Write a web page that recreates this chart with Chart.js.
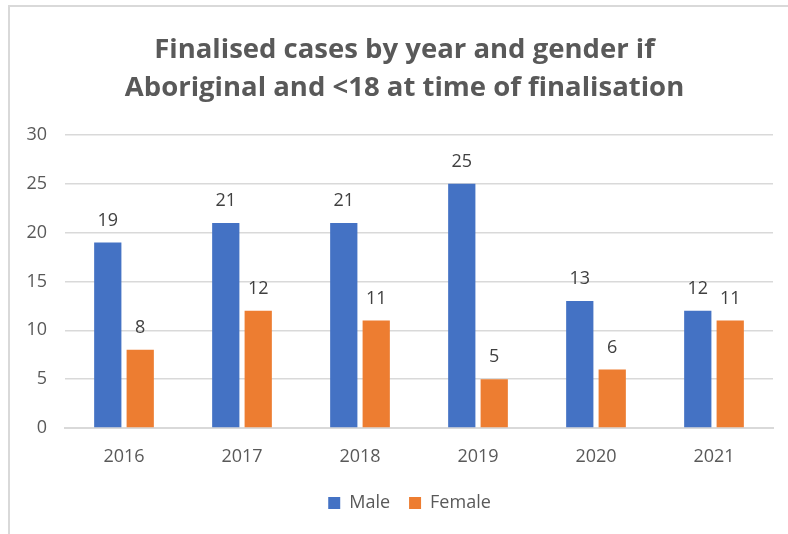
<!DOCTYPE html>
<html>
<head>
<meta charset="utf-8">
<script src="https://cdn.jsdelivr.net/npm/chart.js@4"></script>
<style>
  html, body { margin: 0; padding: 0; background: #fff; }
  #wrap { position: relative; width: 788px; height: 534px; }
  #frame { position: absolute; left: 8px; top: 5px; right: 0; bottom: 0; border-top: 2px solid #d9d9d9; border-left: 2px solid #d9d9d9; pointer-events: none; }
  canvas { position: absolute; left: 0; top: 0; }
</style>
</head>
<body>
<div id="wrap">
  <canvas id="c" width="788" height="534"></canvas>
  <div id="frame"></div>
</div>
<script>
const titleLines = ['Finalised cases by year and gender if', 'Aboriginal and <18 at time of finalisation'];
const years = ['2016', '2017', '2018', '2019', '2020', '2021'];
const maleValues = [19, 21, 21, 25, 13, 12];
const femaleValues = [8, 12, 11, 5, 6, 11];
const seriesNames = ['Male', 'Female'];
const yTicks = [0, 5, 10, 15, 20, 25, 30];

const FONT = '"Open Sans", Lato, sans-serif';
const TEXT = '#595959';

const dataLabels = {
  id: 'dataLabels',
  afterDatasetsDraw(chart) {
    const ctx = chart.ctx;
    ctx.save();
    ctx.font = '18px ' + FONT;
    ctx.fillStyle = '#404040';
    ctx.textAlign = 'center';
    ctx.textBaseline = 'middle';
    chart.data.datasets.forEach((ds, i) => {
      chart.getDatasetMeta(i).data.forEach((bar, j) => {
        ctx.fillText(String(ds.data[j]), bar.x, bar.y - 22);
      });
    });
    ctx.restore();
  }
};

const blockShift = {
  id: 'blockShift',
  afterLayout(chart) {
    const t = chart.titleBlock;
    if (t) { t.left += 13; t.right += 13; }
    const l = chart.legend;
    if (l) { l.left += 18; l.right += 18; }
  }
};

new Chart(document.getElementById('c'), {
  type: 'bar',
  data: {
    labels: years,
    datasets: [
      { label: seriesNames[0], data: maleValues, backgroundColor: '#4472C4' },
      { label: seriesNames[1], data: femaleValues, backgroundColor: '#ED7D31' }
    ]
  },
  options: {
    responsive: false,
    animation: false,
    devicePixelRatio: 1,
    layout: { padding: { left: 10, right: 15, top: 12, bottom: 12 } },
    datasets: { bar: { categoryPercentage: 0.55, barPercentage: 0.84 } },
    plugins: {
      title: {
        display: true,
        text: titleLines,
        color: TEXT,
        font: { family: FONT, size: 27.5, weight: 'bold', lineHeight: '38px' },
        padding: { top: 19, bottom: 28 }
      },
      legend: {
        position: 'bottom',
        labels: {
          color: TEXT,
          font: { family: FONT, size: 18 },
          boxWidth: 12,
          boxHeight: 12,
          padding: 19
        }
      },
      tooltip: { enabled: false }
    },
    scales: {
      x: {
        grid: { display: false, drawTicks: false },
        border: { display: true, color: '#d9d9d9', width: 2 },
        ticks: { color: TEXT, font: { family: FONT, size: 18 }, padding: 18 },
        afterFit(scale) { scale.height = 47; }
      },
      y: {
        min: 0,
        max: 30,
        afterBuildTicks(scale) { scale.ticks = yTicks.map(v => ({ value: v })); },
        grid: { color: '#d9d9d9', lineWidth: 1.5, drawTicks: false },
        border: { display: false },
        ticks: { color: TEXT, font: { family: FONT, size: 18 }, padding: 18 },
        afterFit(scale) { scale.width = 55; }
      }
    }
  },
  plugins: [dataLabels, blockShift]
});
</script>
</body>
</html>
